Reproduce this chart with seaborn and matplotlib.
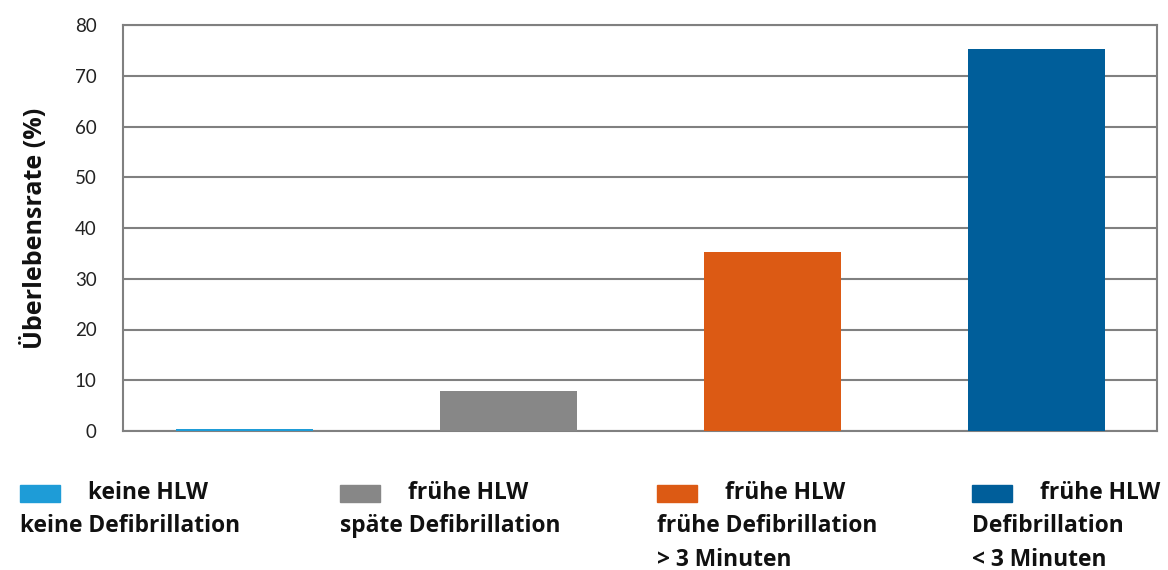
import matplotlib
matplotlib.use("Agg")
import matplotlib.pyplot as plt
from matplotlib.patches import Rectangle
import seaborn as sns
import pandas as pd

# Data
categories = ["keine HLW / keine Defibrillation",
              "frühe HLW / späte Defibrillation",
              "frühe HLW / frühe Defibrillation > 3 Minuten",
              "frühe HLW / Defibrillation < 3 Minuten"]
survival = [0.4, 7.9, 35.3, 75.3]
bar_colors = ["#1E9CD7", "#878787", "#DC5A14", "#005E9A"]
legend_lines = [["keine HLW", "keine Defibrillation"],
                ["frühe HLW", "späte Defibrillation"],
                ["frühe HLW", "frühe Defibrillation", "> 3 Minuten"],
                ["frühe HLW", "Defibrillation", "< 3 Minuten"]]
y_ticks = [0, 10, 20, 30, 40, 50, 60, 70, 80]

sns.set_style("white")
plt.rcParams['font.family'] = ['Lato', 'DejaVu Sans']
bold_font = ['Open Sans', 'DejaVu Sans']

W, H = 1168, 570
fig = plt.figure(figsize=(W / 100, H / 100), dpi=100)
ax = fig.add_axes([123 / W, 1 - 431 / H, (1157 - 123) / W, (431 - 25) / H])

df = pd.DataFrame({"cat": categories, "val": survival})
sns.barplot(data=df, x="cat", y="val", hue="cat", palette=bar_colors,
            width=0.52, legend=False, saturation=1, linewidth=0, ax=ax, zorder=3)

grid_c = "#808080"
xmin, xmax = -0.46, 3.456
ax.set_xlim(xmin, xmax)
ax.set_ylim(0, 80)
ax.set_yticks(y_ticks)
ax.set_yticklabels([str(v) for v in y_ticks], fontsize=13.5, color="#222222")
ax.yaxis.grid(True, color=grid_c, linewidth=1.5, zorder=0)
ax.set_axisbelow(True)
ax.set_xticks([xmin])
ax.set_xticklabels([""])
ax.tick_params(axis="x", length=14, width=1.5, color=grid_c, direction="out")
ax.tick_params(axis="y", length=11, width=1.5, color=grid_c, direction="out", pad=8)
for side in ["left", "right", "bottom", "top"]:
    ax.spines[side].set_color(grid_c)
    ax.spines[side].set_linewidth(1.5)
ax.set_xlabel("")
ax.set_ylabel("Überlebensrate (%)", fontsize=18, fontweight="bold",
              family=bold_font, labelpad=19, color="#111111")

# Custom legend below the plot: patch inline with first line, further lines wrap under it
legend_x = [20, 340, 657, 972]
row_y = [493, 526, 560]
for i, x0 in enumerate(legend_x):
    fig.patches.append(Rectangle((x0 / W, 1 - 502 / H), 40 / W, 17 / H,
                                 transform=fig.transFigure, color=bar_colors[i]))
    for j, line in enumerate(legend_lines[i]):
        tx = (x0 + 68) if j == 0 else x0
        fig.text(tx / W, 1 - row_y[j] / H, line, fontsize=16.4, fontweight="bold",
                 family=bold_font, va="center", ha="left", color="#111111")

fig.savefig("out.png", dpi=100)
